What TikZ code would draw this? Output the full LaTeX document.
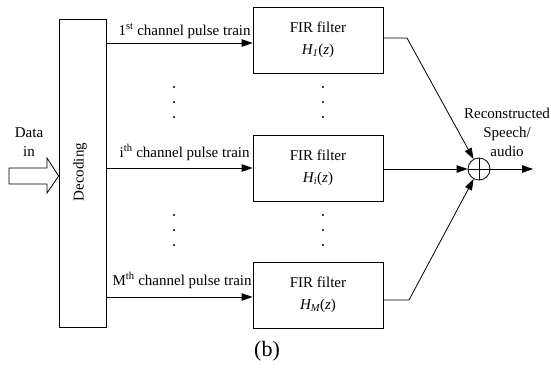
\documentclass[tikz,border=0pt]{standalone}
\usepackage{fontspec}
\setmainfont{Liberation Serif}
\usetikzlibrary{arrows.meta}
\begin{document}
\begin{tikzpicture}[x=1pt,y=-1pt,line width=0.8pt,
  every node/.style={font=\fontsize{15}{22}\selectfont},
  filt/.style={draw, minimum width=130pt, minimum height=66pt, align=center, inner sep=0pt},
  conn/.style={-{Triangle[length=11pt,width=7.5pt]}},
  lbl/.style={anchor=base east, inner sep=0pt},
  dotstyle/.style={fill, circle, inner sep=0pt, minimum size=2.2pt}]
\useasboundingbox (0,0) rectangle (551,367);
% decoding
\node[draw, minimum width=47pt, minimum height=308pt, inner sep=0pt] (dec) at (82.5,173) {};
\node[rotate=90, inner sep=0pt] (dectext) at (80,172) {Decoding};
% data in
\node[align=center, inner sep=0pt, font=\fontsize{15}{19}\selectfont] (datain) at (29,142) {Data\\in};
\draw (9,168) -- (47,168) -- (47,158) -- (dec.west |- 0,176) -- (47,193) -- (47,184) -- (9,184) -- cycle;
% filters
\node[filt] (f1) at (318,40) {FIR filter\\\textit{H\textsubscript{1}}(\textit{z})};
\node[filt] (f2) at (318,168) {FIR filter\\\textit{H\textsubscript{i}}(\textit{z})};
\node[filt] (f3) at (318,295) {FIR filter\\\textit{H\textsubscript{M}}(\textit{z})};
% channel arrows
\coordinate (s1) at (dec.east |- 0,43);
\coordinate (s2) at (dec.east |- 0,168);
\coordinate (s3) at (dec.east |- 0,297);
\draw[conn] (s1) -- (f1.west |- s1);
\draw[conn] (s2) -- (f2.west |- s2);
\draw[conn] (s3) -- (f3.west |- s3);
\node[lbl] (l1) at (251,35) {1\textsuperscript{st} channel pulse train};
\node[lbl] (l2) at (250,157) {i\textsuperscript{th} channel pulse train};
\node[lbl] (l3) at (252,285) {M\textsuperscript{th} channel pulse train};
% dots
\foreach \xx in {174,323}{
  \foreach \yy in {87,102,117,215,230,245}{
    \node[dotstyle] at (\xx,\yy) {};
  }
}
% sum
\node[draw, circle, minimum size=22pt, inner sep=0pt] (sum) at (479,169) {};
\draw (sum.north) -- (sum.south);
\draw (sum.west) -- (sum.east);
\coordinate (o1) at (f1.east |- 0,38);
\coordinate (k1) at (407,38);
\coordinate (o3) at (f3.east |- 0,300);
\coordinate (k3) at (409,300);
\draw[conn] (o1) -- (k1) -- (sum);
\draw[conn] (o3) -- (k3) -- (sum);
\draw[conn] (f2.east |- sum) -- (sum.west);
\coordinate (out) at (533,169);
\draw[conn] (sum.east) -- (out);
\node[align=center, inner sep=0pt, font=\fontsize{15}{19}\selectfont] (rec) at (507,132) {Reconstructed\\Speech/\\audio};
% caption
\node[inner sep=0pt, font=\fontsize{22}{26}\selectfont] (cap) at (267,351) {(b)};
\end{tikzpicture}
\end{document}
